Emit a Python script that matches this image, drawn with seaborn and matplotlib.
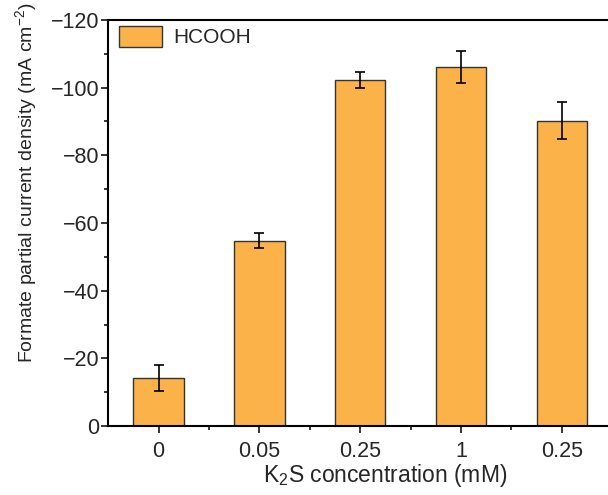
import matplotlib
matplotlib.use('agg')
import matplotlib.pyplot as plt
import seaborn as sns
import pandas as pd
from matplotlib.ticker import MultipleLocator, FixedLocator
from matplotlib.patches import Patch

# data
conc_labels = ['0', '0.05', '0.25', '1', '0.25']
formate_j = [-14.2, -54.8, -102.3, -106.0, -90.2]
formate_err = [3.9, 2.2, 2.3, 4.8, 5.5]

sns.set_style('ticks')
plt.rcParams['font.family'] = ['Liberation Sans', 'DejaVu Sans']
plt.rcParams['mathtext.fontset'] = 'custom'
plt.rcParams['mathtext.rm'] = 'Liberation Sans'
plt.rcParams['mathtext.it'] = 'Liberation Sans:italic'

df = pd.DataFrame({'pos': list(range(len(conc_labels))), 'j': formate_j})

fig = plt.figure(figsize=(6.08, 4.95), dpi=100)
ax = fig.add_axes([0.178, 0.139, 0.829, 0.821])

bar_color = '#FBB349'
sns.barplot(data=df, x='pos', y='j', color=bar_color, width=0.5, saturation=1,
            edgecolor='#333333', linewidth=1.0, ax=ax)
ax.errorbar(df['pos'], df['j'], yerr=formate_err, fmt='none', ecolor='black',
            elinewidth=1.2, capsize=3.8, capthick=1.2)

ax.set_xlim(-0.5, 4.5)
ax.set_ylim(0, -120)
ax.yaxis.set_major_locator(MultipleLocator(20))
ax.yaxis.set_minor_locator(MultipleLocator(10))
ax.set_xticks(df['pos'])
ax.set_xticklabels(conc_labels)
ax.xaxis.set_minor_locator(FixedLocator([0.5, 1.5, 2.5, 3.5]))

ax.tick_params(axis='both', which='major', direction='out', length=5, width=1.3,
               labelsize=15.5)
ax.tick_params(axis='x', which='major', pad=6)
ax.tick_params(axis='y', which='major', pad=1.5)
ax.tick_params(axis='both', which='minor', direction='out', length=3, width=1.3)
ax.tick_params(top=False, right=False, which='both')

for side in ['left', 'bottom', 'top']:
    ax.spines[side].set_linewidth(1.5)
    ax.spines[side].set_color('black')
ax.spines['right'].set_visible(False)

ax.set_xlabel('K$_2$S concentration (mM)', fontsize=16.5)
ax.set_ylabel('Formate partial current density (mA cm$^{-2}$)', fontsize=14)
ax.xaxis.set_label_coords(0.55, -0.088)
ax.yaxis.set_label_coords(-0.138, 0.60)

handle = Patch(facecolor=bar_color, edgecolor='#333333', linewidth=1.0, label='HCOOH')
ax.legend(handles=[handle], loc='upper left', bbox_to_anchor=(0.022, 0.985),
          frameon=False, fontsize=15, handlelength=2.05, handleheight=1.15,
          borderaxespad=0, borderpad=0, handletextpad=0.53)

fig.savefig('out.png', dpi=100)
